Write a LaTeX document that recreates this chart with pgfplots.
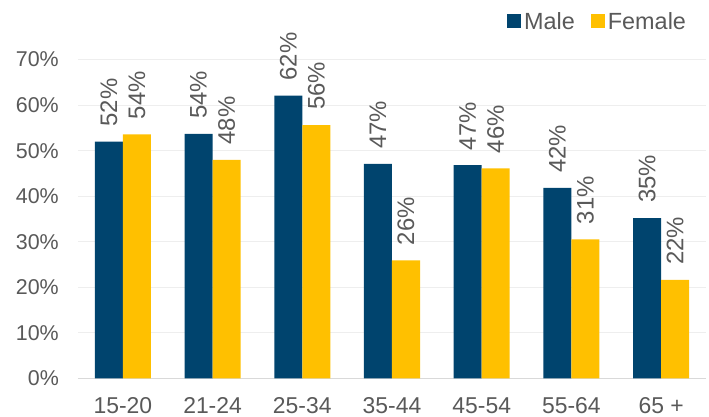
\documentclass[border=0pt]{standalone}
\usepackage{pgfplots}
\pgfplotsset{compat=1.18}
\usepackage{fontspec}
\setmainfont{Liberation Sans}
\definecolor{navy}{HTML}{00446E}
\definecolor{gold}{HTML}{FFC000}
\definecolor{txt}{HTML}{595959}
\definecolor{gridc}{HTML}{EEEEEE}
\definecolor{axc}{HTML}{D9D9D9}
\begin{document}
\begin{tikzpicture}
\path[use as bounding box] (-78bp,-38.7bp) rectangle (631bp,378.3bp);
\begin{axis}[
  at={(0,0)}, anchor=south west,
  scale only axis,
  width=628bp, height=318.7bp,
  ybar=0pt, bar width=28bp,
  xmin=-0.5, xmax=6.5,
  ymin=0, ymax=70,
  xtick={0,1,2,3,4,5,6},
  xticklabels={15-20,21-24,25-34,35-44,45-54,55-64,65 +},
  ytick={0,10,20,30,40,50,60,70},
  yticklabel={\pgfmathprintnumber{\tick}\%},
  /pgf/number format/assume math mode=true,
  axis line style={draw=none},
  axis x line*=bottom,
  x axis line style={draw=axc, line width=1.2pt},
  ymajorgrids, grid style={draw=gridc, line width=0.8pt},
  major tick length=0pt,
  yticklabel style={font=\fontsize{21.5}{24}\selectfont, text=txt, inner sep=0pt, xshift=-19bp},
  xticklabel style={font=\fontsize{23}{26}\selectfont, text=txt, inner sep=0pt, yshift=-19bp},
  clip=false,
  nodes near coords={\pgfmathprintnumber[fixed,precision=0]{\pgfplotspointmeta}\%},
  every node near coord/.append style={font=\fontsize{24}{27}\selectfont, text=txt, rotate=90, anchor=west, inner xsep=15bp, inner ysep=0pt},
  legend style={draw=none, fill=none, at={(0.978,1.12)}, anchor=east,
    legend columns=2, font=\fontsize{23.5}{27}\selectfont, text=txt,
    /tikz/every even column/.append style={column sep=8bp},
    nodes={inner xsep=3bp, inner ysep=2bp}},
  legend image code/.code={\fill[#1] (0bp,-7bp) rectangle (14bp,7bp);},
]
\addplot[fill=navy, draw=none] coordinates {(0,52.0) (1,53.7) (2,62.1) (3,47.1) (4,46.8) (5,41.8) (6,35.2)};
\addplot[fill=gold, draw=none] coordinates {(0,53.6) (1,48.0) (2,55.6) (3,25.9) (4,46.1) (5,30.5) (6,21.6)};
\legend{Male\kern5bp, Female}
\end{axis}
\end{tikzpicture}
\end{document}
